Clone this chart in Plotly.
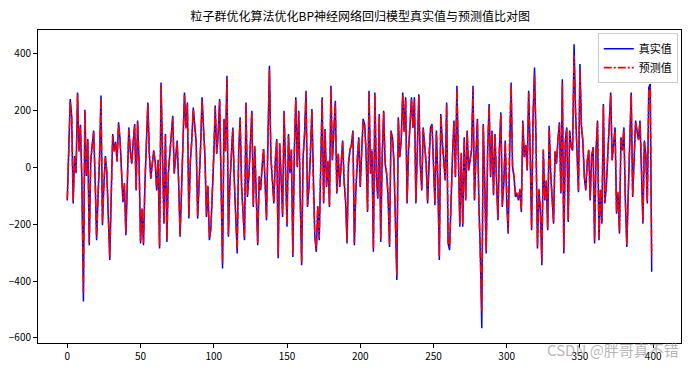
import plotly.graph_objects as go

title_text = "粒子群优化算法优化BP神经网络回归模型真实值与预测值比对图"
series_names = ["真实值", "预测值"]
x_ticks = [0, 50, 100, 150, 200, 250, 300, 350, 400]
y_ticks = [-600, -400, -200, 0, 200, 400]

true_values = [
    -116, 120, 241, 180, -127, 40, -20, 264, 60, 150,
    -60, -472, 203, -30, 100, -274, 20, 80, 130, -40,
    -256, -100, 30, 253, -203, -60, 40, -20, -150, -326,
    -100, 118, 60, 90, 20, 159, 100, -20, -122, -60,
    -239, -50, 141, 60, 13, 90, 153, -81, 165, 20,
    -268, -150, -274, -60, 100, 229, 50, -40, 10, 60,
    20, -81, 25, -285, 299, 40, -198, 118, -262, -20,
    60, 120, 182, -22, 40, 95, -50, -244, -80, 72,
    264, 141, 229, -180, 20, 95, 211, 150, 89, -180,
    -60, 72, 247, 120, 36, -174, -69, -256, -220, -92,
    30, 218, 48, 120, 241, -50, -356, 171, 60, 323,
    -244, -60, 40, 141, -46, -150, -303, 50, 177, -69,
    -150, -256, 229, -104, -30, 80, 200, -139, 72, -100,
    -274, -34, -80, 1, 65, -50, -186, 100, 358, 36,
    -60, -127, 20, 100, -320, 83, -40, -174, 200, 25,
    -209, 118, -20, 60, -315, 50, 247, 1, 200, -100,
    -344, 36, 120, 270, -139, -69, 40, 206, -80, -244,
    -297, -139, -256, 60, 247, -127, 135, -69, 20, -139,
    288, 25, 120, 235, -92, 48, -69, 20, 95, -51,
    -120, -268, 13, 60, 80, 130, -274, -81, 40, 106,
    -69, 60, 171, 153, 50, -157, 270, -22, 60, -297,
    264, -34, -110, 188, -262, 40, 200, 13, -22, -100,
    -280, 130, 106, 20, -151, -396, 177, 36, 100, 264,
    130, 247, -127, 65, 150, 247, 141, 247, -127, 60,
    258, 13, -81, 141, 60, 13, -127, 50, 141, 153,
    20, -133, 130, -50, -326, 188, 95, 20, -46, 229,
    -268, -291, -81, 40, 165, -34, 288, 20, -209, 48,
    -209, 106, -116, 130, -11, 25, 60, 288, -116, 40,
    171, -127, -300, -566, 153, -50, -303, 60, 223, -34,
    130, -98, 118, -40, -186, 60, 194, -139, -57, 95,
    -127, -233, 120, 299, 1, -34, -104, -92, -116, -80,
    -157, 165, 36, 80, -11, 270, 60, -221, 177, 352,
    100, -285, -81, -150, -344, 60, -116, -50, -221, 147,
    -20, -116, -198, 54, 13, 100, 159, -92, 311, -303,
    95, 141, -192, 130, 72, 60, 434, 200, 48, -87,
    364, 150, 95, -34, -81, 20, 60, -116, 40, 72,
    -268, 60, 165, -256, -81, -198, 223, -127, -69, 50,
    120, 264, 25, 80, 141, -163, -92, -233, 106, 60,
    141, -116, -280, -92, 100, 264, -104, 60, 165, 130,
    100, 165, 20, -198, 95, 40, -127, 282, 294, -367,
]

pred_values = [
    -110, 112, 232, 175, -118, 35, -12, 258, 55, 142,
    -52, -440, 196, -25, 92, -265, 25, 74, 125, -35,
    -248, -92, 34, 245, -195, -55, 36, -15, -142, -315,
    -94, 112, 56, 86, 24, 152, 96, -15, -115, -55,
    -230, -45, 135, 56, 17, 86, 147, -75, 158, 24,
    -260, -142, -266, -55, 95, 222, 46, -35, 14, 56,
    24, -75, 28, -276, 288, 44, -190, 112, -254, -15,
    56, 115, 176, -18, 44, 90, -45, -236, -74, 68,
    255, 136, 222, -172, 24, 90, 204, 145, 85, -172,
    -55, 68, 238, 115, 40, -166, -64, -248, -212, -86,
    34, 210, 52, 115, 233, -45, -340, 165, 56, 312,
    -236, -55, 44, 136, -40, -144, -292, 54, 170, -64,
    -144, -248, 222, -98, -25, 84, 194, -132, 76, -94,
    -265, -30, -74, 5, 68, -45, -178, 96, 345, 40,
    -55, -120, 24, 95, -308, 86, -35, -166, 193, 30,
    -200, 112, -15, 64, -304, 54, 238, 5, 194, -94,
    -332, 40, 115, 262, -132, -64, 44, 199, -74, -236,
    -288, -132, -248, 64, 238, -120, 130, -64, 24, -132,
    278, 30, 115, 228, -86, 52, -64, 24, 90, -46,
    -114, -260, 17, 64, 76, 125, -265, -75, 44, 100,
    -64, 64, 165, 148, 54, -150, 262, -18, 64, -288,
    256, -30, -104, 182, -254, 44, 194, 17, -18, -94,
    -270, 125, 100, 24, -144, -380, 170, 40, 96, 256,
    125, 240, -120, 68, 145, 240, 136, 240, -120, 64,
    250, 17, -75, 136, 64, 17, -120, 54, 136, 148,
    24, -126, 125, -45, -315, 182, 90, 24, -40, 222,
    -260, -280, -75, 44, 158, -30, 278, 24, -200, 52,
    -200, 100, -110, 125, -7, 28, 64, 278, -110, 44,
    165, -120, -290, -505, 148, -45, -294, 64, 216, -30,
    125, -92, 112, -35, -178, 64, 188, -132, -52, 90,
    -120, -225, 115, 290, 5, -30, -98, -86, -110, -75,
    -150, 158, 40, 76, -7, 262, 64, -213, 170, 330,
    96, -275, -75, -144, -330, 64, -110, -45, -213, 142,
    -15, -110, -190, 58, 17, 96, 152, -86, 300, -292,
    90, 136, -184, 125, 76, 64, 395, 194, 52, -82,
    345, 145, 90, -30, -75, 24, 64, -110, 44, 68,
    -258, 64, 158, -248, -75, -190, 216, -120, -64, 54,
    115, 256, 28, 76, 136, -156, -86, -225, 100, 64,
    136, -110, -270, -86, 96, 256, -98, 64, 158, 125,
    96, 158, 24, -190, 90, 44, -120, 272, 284, -320,
]

x_index = list(range(len(true_values)))

font_family = "Noto Sans CJK SC, DejaVu Sans, sans-serif"

fig = go.Figure()
fig.add_trace(go.Scatter(
    x=x_index, y=true_values, mode="lines", name=series_names[0],
    line=dict(color="#0000ff", width=1.5),
))
fig.add_trace(go.Scatter(
    x=list(range(len(pred_values))), y=pred_values, mode="lines", name=series_names[1],
    line=dict(color="#ff0000", width=1.6, dash="8px,2px,2px,2px"),
))

axis_common = dict(
    showgrid=False, zeroline=False, showline=True, linecolor="black", linewidth=1,
    mirror=True, ticks="outside", ticklen=4, tickwidth=1, tickcolor="black",
    automargin=False,
    tickfont=dict(family=font_family, size=10, color="black"),
)

fig.update_layout(
    width=693, height=369,
    margin=dict(l=38, r=12, t=30, b=26, autoexpand=False),
    paper_bgcolor="white", plot_bgcolor="white",
    title=dict(text=title_text, x=0.52, xanchor="center", y=0.955, yanchor="middle",
               font=dict(family=font_family, size=12, color="black")),
    xaxis=dict(range=[-20, 419], tickvals=x_ticks, **axis_common),
    yaxis=dict(range=[-618, 484], tickvals=y_ticks, **axis_common),
    legend=dict(x=0.995, y=0.99, xanchor="right", yanchor="top",
                bgcolor="rgba(255,255,255,0.85)", bordercolor="#cccccc", borderwidth=1,
                font=dict(family=font_family, size=11, color="black"),
                itemwidth=30, tracegroupgap=0),
    showlegend=True,
)

fig.add_annotation(
    text="CSDN @胖哥真不错", xref="paper", yref="paper", x=1.0, y=-0.022,
    xanchor="right", yanchor="middle", showarrow=False,
    font=dict(family=font_family, size=15, color="rgba(150,150,150,0.7)"),
)

fig.write_html("out.html", config={"displayModeBar": False},
               post_script="document.body.style.margin='0';")
